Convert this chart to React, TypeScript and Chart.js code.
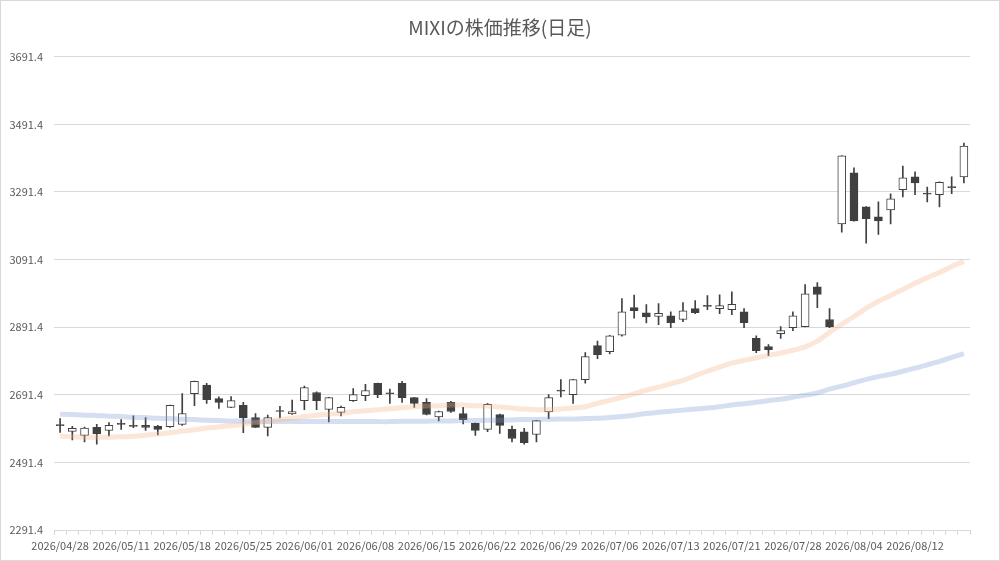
import { useEffect, useRef } from "react"
import { Chart, registerables } from "chart.js"

Chart.register(...registerables)

const dates = [
  "2026/04/28", "2026/04/30", "2026/05/01", "2026/05/07", "2026/05/08",
  "2026/05/11", "2026/05/12", "2026/05/13", "2026/05/14", "2026/05/15",
  "2026/05/18", "2026/05/19", "2026/05/20", "2026/05/21", "2026/05/22",
  "2026/05/25", "2026/05/26", "2026/05/27", "2026/05/28", "2026/05/29",
  "2026/06/01", "2026/06/02", "2026/06/03", "2026/06/04", "2026/06/05",
  "2026/06/08", "2026/06/09", "2026/06/10", "2026/06/11", "2026/06/12",
  "2026/06/15", "2026/06/16", "2026/06/17", "2026/06/18", "2026/06/19",
  "2026/06/22", "2026/06/23", "2026/06/24", "2026/06/25", "2026/06/26",
  "2026/06/29", "2026/06/30", "2026/07/01", "2026/07/02", "2026/07/03",
  "2026/07/06", "2026/07/07", "2026/07/08", "2026/07/09", "2026/07/10",
  "2026/07/13", "2026/07/14", "2026/07/15", "2026/07/16", "2026/07/17",
  "2026/07/21", "2026/07/22", "2026/07/23", "2026/07/24", "2026/07/27",
  "2026/07/28", "2026/07/29", "2026/07/30", "2026/07/31", "2026/08/03",
  "2026/08/04", "2026/08/05", "2026/08/06", "2026/08/07", "2026/08/10",
  "2026/08/12", "2026/08/13", "2026/08/14", "2026/08/17", "2026/08/18",
]

const opens = [
  2603, 2583, 2571, 2595, 2586, 2607, 2601, 2601, 2598, 2597,
  2604, 2695, 2720, 2680, 2654, 2660, 2624, 2595, 2645, 2635,
  2674, 2698, 2648, 2639, 2674, 2689, 2725, 2697, 2725, 2683,
  2669, 2626, 2669, 2636, 2607, 2589, 2633, 2589, 2582, 2574,
  2641, 2705, 2692, 2736, 2837, 2819, 2868, 2949, 2934, 2923,
  2925, 2914, 2946, 2956, 2946, 2943, 2937, 2858, 2834, 2872,
  2890, 2893, 3011, 2914, 3197, 3348, 3247, 3218, 3238, 3298,
  3336, 3288, 3283, 3307, 3336,
]
const highs = [
  2621, 2598, 2596, 2604, 2609, 2618, 2629, 2624, 2601, 2661,
  2695, 2732, 2725, 2685, 2686, 2669, 2636, 2631, 2657, 2676,
  2717, 2700, 2684, 2658, 2710, 2722, 2726, 2708, 2731, 2684,
  2680, 2643, 2672, 2654, 2608, 2666, 2634, 2599, 2592, 2616,
  2692, 2736, 2737, 2816, 2850, 2867, 2976, 2986, 2958, 2961,
  2937, 2964, 2970, 2985, 2987, 2996, 2946, 2866, 2840, 2893,
  2937, 3017, 3023, 2946, 3399, 3363, 3248, 3262, 3286, 3368,
  3351, 3306, 3321, 3336, 3436,
]
const lows = [
  2580, 2558, 2552, 2545, 2570, 2589, 2594, 2586, 2573, 2595,
  2601, 2659, 2666, 2651, 2653, 2579, 2594, 2570, 2623, 2633,
  2647, 2647, 2611, 2629, 2672, 2674, 2683, 2666, 2669, 2654,
  2632, 2614, 2639, 2605, 2571, 2582, 2577, 2552, 2545, 2552,
  2621, 2685, 2666, 2726, 2798, 2812, 2865, 2918, 2904, 2899,
  2890, 2908, 2931, 2943, 2931, 2928, 2890, 2816, 2807, 2858,
  2881, 2892, 2949, 2890, 3172, 3205, 3140, 3166, 3197, 3277,
  3283, 3262, 3247, 3286, 3318,
]
const closes = [
  2600, 2592, 2593, 2576, 2601, 2604, 2598, 2595, 2589, 2660,
  2636, 2731, 2677, 2669, 2674, 2624, 2595, 2624, 2642, 2642,
  2713, 2674, 2683, 2654, 2692, 2704, 2692, 2694, 2683, 2666,
  2633, 2642, 2642, 2618, 2586, 2663, 2601, 2562, 2550, 2615,
  2683, 2702, 2736, 2804, 2810, 2866, 2937, 2940, 2922, 2932,
  2905, 2940, 2934, 2953, 2955, 2959, 2905, 2822, 2825, 2881,
  2925, 2990, 2988, 2893, 3398, 3206, 3212, 3206, 3271, 3333,
  3318, 3285, 3320, 3304, 3427,
]

const maShort = [
  2569, 2567, 2566, 2566, 2566, 2567, 2569, 2572, 2575, 2579,
  2584, 2588, 2593, 2596, 2600, 2604, 2609, 2613, 2618, 2622,
  2627, 2631, 2634, 2637, 2641, 2644, 2647, 2650, 2653, 2656,
  2658, 2659, 2661, 2661, 2659, 2658, 2655, 2652, 2649, 2647,
  2647, 2649, 2652, 2656, 2666, 2675, 2684, 2694, 2705, 2714,
  2724, 2734, 2748, 2761, 2773, 2785, 2793, 2801, 2808, 2815,
  2823, 2833, 2850, 2876, 2900, 2923, 2947, 2968, 2985, 3003,
  3021, 3038, 3053, 3071, 3086,
]
const maLong = [
  2634, 2633, 2631, 2630, 2628, 2627, 2625, 2624, 2622, 2621,
  2619, 2618, 2616, 2615, 2614, 2614, 2613, 2612, 2612, 2612,
  2612, 2612, 2612, 2612, 2612, 2612, 2612, 2612, 2613, 2613,
  2613, 2614, 2614, 2615, 2615, 2616, 2616, 2617, 2618, 2618,
  2619, 2620, 2620, 2621, 2622, 2624, 2627, 2631, 2636, 2640,
  2643, 2646, 2649, 2652, 2656, 2661, 2665, 2669, 2674, 2678,
  2684, 2690, 2697, 2708, 2717, 2727, 2737, 2745, 2752, 2761,
  2770, 2780, 2790, 2802, 2813,
]

const yTicksMin = 2291.4
const yTicksMax = 3691.4
const yStep = 200

const TITLE = "MIXIの株価推移(日足)"
const FONT = "'Noto Sans CJK JP', 'Noto Sans', sans-serif"
const INK = "#404040"

// draws the title centred on the whole canvas, not on the padded layout box
const titlePlugin = {
  id: "centredTitle",
  afterDraw(chart: Chart) {
    const { ctx, width } = chart
    ctx.save()
    ctx.fillStyle = "#595959"
    ctx.font = `19px ${FONT}`
    ctx.textAlign = "center"
    ctx.textBaseline = "middle"
    ctx.fillText(TITLE, width / 2, 27)
    ctx.restore()
  },
}

export default function App() {
  const chartRef = useRef<HTMLCanvasElement | null>(null)
  const chartInstance = useRef<Chart | null>(null)

  useEffect(() => {
    if (!chartRef.current) return
    if (chartInstance.current) chartInstance.current.destroy()

    const ctx = chartRef.current.getContext("2d")
    if (!ctx) return

    chartInstance.current = new Chart(ctx, {
      type: "bar",
      data: {
        labels: dates,
        datasets: [
          {
            type: "line",
            label: "MA short",
            data: maShort,
            borderColor: "rgba(244, 177, 131, 0.32)",
            borderWidth: 5,
            pointRadius: 0,
            tension: 0.3,
            fill: false,
            order: 1,
          },
          {
            type: "line",
            label: "MA long",
            data: maLong,
            borderColor: "rgba(120, 150, 210, 0.3)",
            borderWidth: 5,
            pointRadius: 0,
            tension: 0.3,
            fill: false,
            order: 1,
          },
          {
            type: "bar",
            label: "body",
            data: opens.map((o, i) => [o, closes[i]]),
            backgroundColor: opens.map((o, i) => (closes[i] >= o ? "#ffffff" : INK)),
            borderColor: INK,
            borderWidth: 1,
            borderSkipped: false,
            barThickness: 8,
            grouped: false,
            order: 2,
          },
          {
            type: "bar",
            label: "wick",
            data: lows.map((l, i) => [l, highs[i]]),
            backgroundColor: INK,
            borderWidth: 0,
            barThickness: 1,
            grouped: false,
            order: 3,
          },
        ],
      },
      options: {
        responsive: true,
        maintainAspectRatio: false,
        animation: false,
        layout: { padding: { left: 0, right: 29, top: 55.7, bottom: 0 } },
        plugins: {
          legend: { display: false },
          tooltip: { enabled: false },
          title: { display: false },
        },
        scales: {
          x: {
            type: "category",
            offset: true,
            afterFit: (scale) => {
              scale.height = 30
            },
            grid: {
              display: true,
              drawOnChartArea: false,
              drawTicks: true,
              tickLength: 5,
              offset: true,
              color: "#d9d9d9",
            },
            border: { display: true, color: "#d9d9d9" },
            ticks: {
              autoSkip: false,
              maxRotation: 0,
              minRotation: 0,
              padding: 4,
              color: "#595959",
              font: { family: FONT, size: 11 },
              callback: (_v, idx) => (idx % 5 === 0 ? dates[idx] : ""),
            },
          },
          y: {
            min: yTicksMin,
            max: yTicksMax,
            afterFit: (scale) => {
              scale.width = 53
            },
            grid: { color: "#d9d9d9", drawTicks: false },
            border: { display: false },
            ticks: {
              stepSize: yStep,
              padding: 11,
              color: "#595959",
              font: { family: FONT, size: 11 },
              callback: (v) => Number(v).toFixed(1),
            },
          },
        },
      },
      plugins: [titlePlugin],
    })

    return () => {
      if (chartInstance.current) {
        chartInstance.current.destroy()
        chartInstance.current = null
      }
    }
  }, [])

  return (
    <div
      style={{
        position: "absolute",
        left: 0,
        top: 0,
        width: 1000,
        height: 561,
        boxSizing: "border-box",
        border: "1px solid #d9d9d9",
        background: "#ffffff",
      }}
    >
      <div style={{ position: "relative", width: 998, height: 559 }}>
        <canvas ref={chartRef} />
      </div>
    </div>
  )
}
